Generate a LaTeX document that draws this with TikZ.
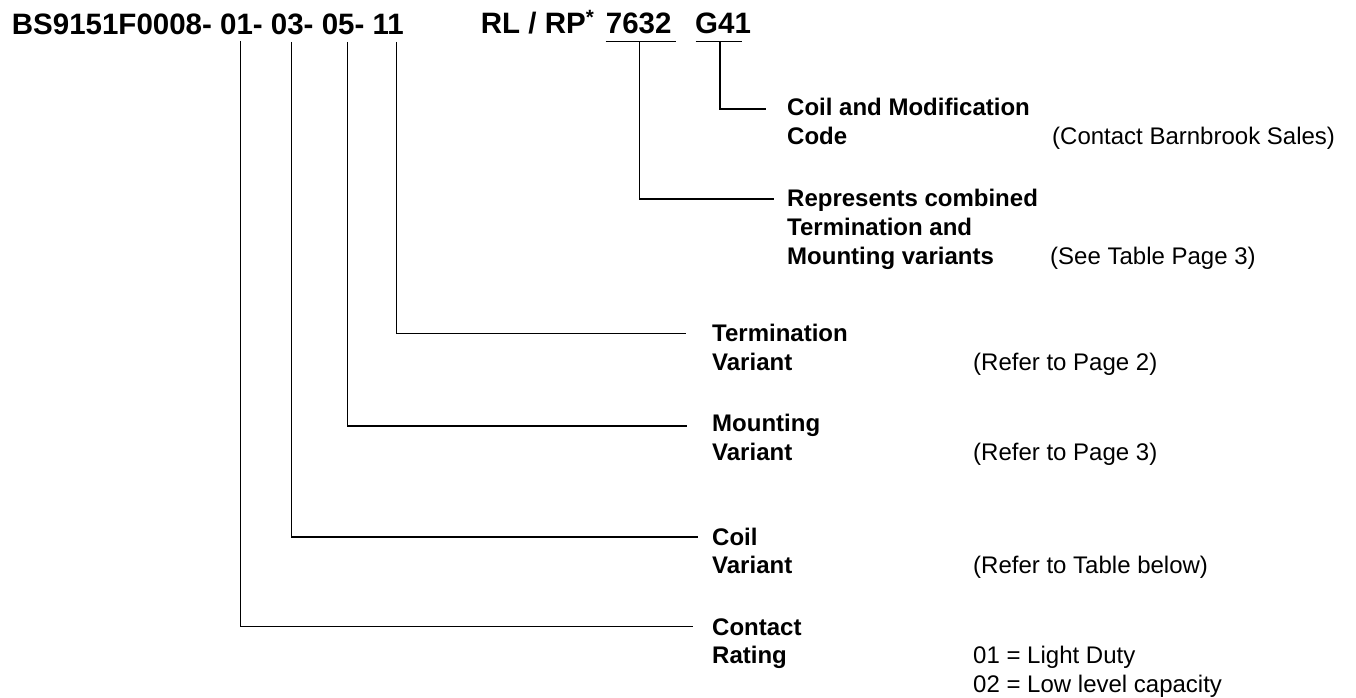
\documentclass[tikz,border=0pt]{standalone}
\usepackage{fontspec}
\setmainfont{Liberation Sans}
\begin{document}
\begin{tikzpicture}[x=1pt,y=-1pt,
  lbl/.style={anchor=base west, inner sep=0pt, font=\fontsize{24}{28.75}\selectfont\bfseries},
  note/.style={anchor=base west, inner sep=0pt, font=\fontsize{24}{28.75}\selectfont},
  ttl/.style={anchor=base west, inner sep=0pt, font=\fontsize{29.5}{34}\selectfont\bfseries},
  conn/.style={line width=1.3pt, black}]
\useasboundingbox (0,0) rectangle (1356,698);

% title
\node[ttl] (code)  at (11.7,35) {BS9151F0008- 01- 03- 05- 11};
\node[ttl] (rlrp)  at (480.7,34) {RL / RP\textsuperscript{*}};
\node[ttl] (n7632) at (605.7,34) {7632};
\node[ttl] (g41)   at (695,34) {G41};

% drop points under the code groups
\coordinate (d01) at (240.7,41);
\coordinate (d03) at (291.7,42);
\coordinate (d05) at (347.7,42);
\coordinate (d11) at (396.7,42);

% underlines
\coordinate (u7a) at (605.7,41.7);
\coordinate (u7b) at (675.7,41.7);
\coordinate (u7m) at (639.3,41.7);
\coordinate (uga) at (695.7,41.7);
\coordinate (ugb) at (741.7,41.7);
\coordinate (ugm) at (720,41.7);

% ends of the leader lines
\coordinate (eG)  at (765.7,109);
\coordinate (e76) at (774,199);
\coordinate (e11) at (686,333.3);
\coordinate (e05) at (686.7,426);
\coordinate (e03) at (698,537);
\coordinate (e01) at (692.7,626.7);

% labels
\node[lbl]  (cm1) at (787,115.7) {Coil and Modification};
\node[lbl]  (cm2) at (787,144.3) {Code};
\node[note] (cm3) at (1052,144.3) {(Contact Barnbrook Sales)};

\node[lbl]  (rc1) at (787,206.7) {Represents combined};
\node[lbl]  (rc2) at (787,235.4) {Termination and};
\node[lbl]  (rc3) at (787,264.2) {Mounting variants};
\node[note] (rc4) at (1050,264.2) {(See Table Page 3)};

\node[lbl]  (tv1) at (712,341.7) {Termination};
\node[lbl]  (tv2) at (712,370.5) {Variant};
\node[note] (tv3) at (973,370.5) {(Refer to Page 2)};

\node[lbl]  (mv1) at (712,431.5) {Mounting};
\node[lbl]  (mv2) at (712,460.3) {Variant};
\node[note] (mv3) at (973,460.3) {(Refer to Page 3)};

\node[lbl]  (cv1) at (712,545) {Coil};
\node[lbl]  (cv2) at (712,573.7) {Variant};
\node[note] (cv3) at (973,573.7) {(Refer to Table below)};

\node[lbl]  (cr1) at (712,635) {Contact};
\node[lbl]  (cr2) at (712,663.7) {Rating};
\node[note] (cr3) at (973,663.7) {01 = Light Duty};
\node[note] (cr4) at (973,692.4) {02 = Low level capacity};

% connectors
\draw[conn] (u7a) -- (u7b);
\draw[conn] (uga) -- (ugb);
\draw[conn] (ugm) |- (eG);
\draw[conn] (u7m) |- (e76);
\draw[conn] (d11) |- (e11);
\draw[conn] (d05) |- (e05);
\draw[conn] (d03) |- (e03);
\draw[conn] (d01) |- (e01);
\end{tikzpicture}
\end{document}
